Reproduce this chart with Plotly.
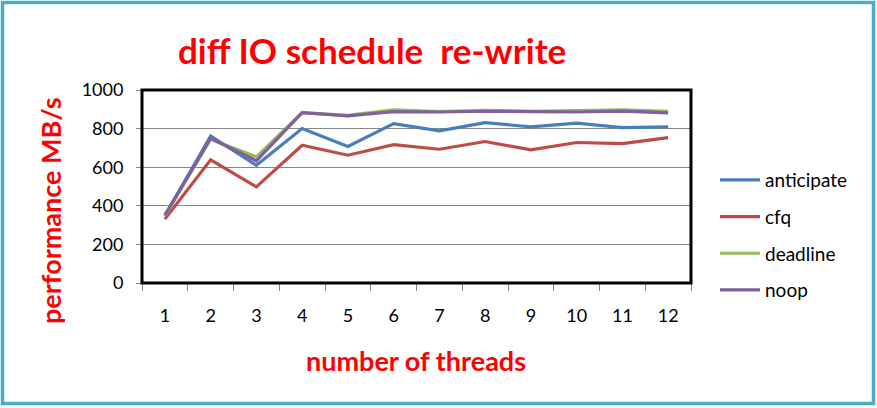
import plotly.graph_objects as go

threads = ["1", "2", "3", "4", "5", "6", "7", "8", "9", "10", "11", "12"]
anticipate = [348, 762, 610, 800, 707, 826, 788, 831, 809, 828, 805, 809]
cfq = [331, 638, 498, 714, 662, 717, 693, 733, 690, 728, 722, 753]
deadline = [348, 745, 653, 883, 869, 897, 888, 895, 890, 895, 897, 890]
noop = [352, 750, 633, 883, 866, 888, 886, 890, 888, 886, 891, 881]
y_ticks = [0, 200, 400, 600, 800, 1000]

series = [
    ("anticipate", anticipate, "#4A7EBB"),
    ("cfq", cfq, "#BE4B48"),
    ("deadline", deadline, "#98B954"),
    ("noop", noop, "#7D60A0"),
]

W, H = 877, 408
L, R, T, B = 142, 691, 90, 283
FONT = "Lato, Open Sans, sans-serif"

fig = go.Figure()
for name, vals, col in series:
    fig.add_trace(go.Scatter(
        x=threads, y=vals, mode="lines", name=name, legendgroup=name,
        line=dict(color=col, width=3.2),
    ))

def px_x(p):
    return (p - L) / (R - L)

def px_y(p):
    return (B - p) / (B - T)

fig.update_layout(
    width=W, height=H,
    margin=dict(l=L, r=W - R, t=T, b=H - B, pad=0),
    paper_bgcolor="white", plot_bgcolor="white",
    font=dict(family=FONT, size=18, color="black"),
    showlegend=True,
    legend=dict(
        x=px_x(715), y=px_y(161), xanchor="left", yanchor="top",
        font=dict(size=19, color="black", family=FONT),
        tracegroupgap=9, itemwidth=40, bgcolor="rgba(0,0,0,0)",
    ),
    xaxis=dict(
        type="category", tickson="boundaries", ticks="outside", ticklen=7,
        tickcolor="#868686", showgrid=False, showline=True, linecolor="#868686",
        tickfont=dict(size=18), ticklabelstandoff=16, range=[-0.5, 11.5],
    ),
    yaxis=dict(
        range=[0, 1000], tickvals=y_ticks, ticks="outside", ticklen=5,
        tickcolor="#868686", showgrid=True, gridcolor="#868686", gridwidth=1,
        showline=True, linecolor="#868686", tickfont=dict(size=18),
        ticklabelstandoff=9, zeroline=False,
    ),
    annotations=[
        dict(text="<b>diff IO schedule&nbsp;&nbsp;re-write</b>", xref="paper", yref="paper",
             x=px_x(372), y=px_y(50), xanchor="center", yanchor="middle", showarrow=False,
             font=dict(size=35, color="#FF0000", family=FONT)),
        dict(text="<b>number of threads</b>", xref="paper", yref="paper",
             x=px_x(416), y=px_y(360), xanchor="center", yanchor="middle", showarrow=False,
             font=dict(size=27, color="#FF0000", family=FONT)),
        dict(text="<b>performance MB/s</b>", xref="paper", yref="paper",
             x=px_x(50), y=px_y(211), xanchor="center", yanchor="middle", showarrow=False,
             textangle=-90, font=dict(size=27, color="#FF0000", family=FONT)),
    ],
    shapes=[
        dict(type="rect", xref="paper", yref="paper",
             x0=px_x(L), x1=px_x(R), y0=px_y(B), y1=px_y(T),
             line=dict(color="black", width=3), layer="above"),
        dict(type="rect", xref="paper", yref="paper",
             x0=px_x(2.5), x1=px_x(873.5), y0=px_y(403.5), y1=px_y(2.5),
             line=dict(color="#4BACC6", width=3.5), layer="above"),
    ],
)

fig.write_html(
    "out.html",
    config={"displayModeBar": False},
    post_script="document.body.style.margin='0px';document.body.style.overflow='hidden';",
)
